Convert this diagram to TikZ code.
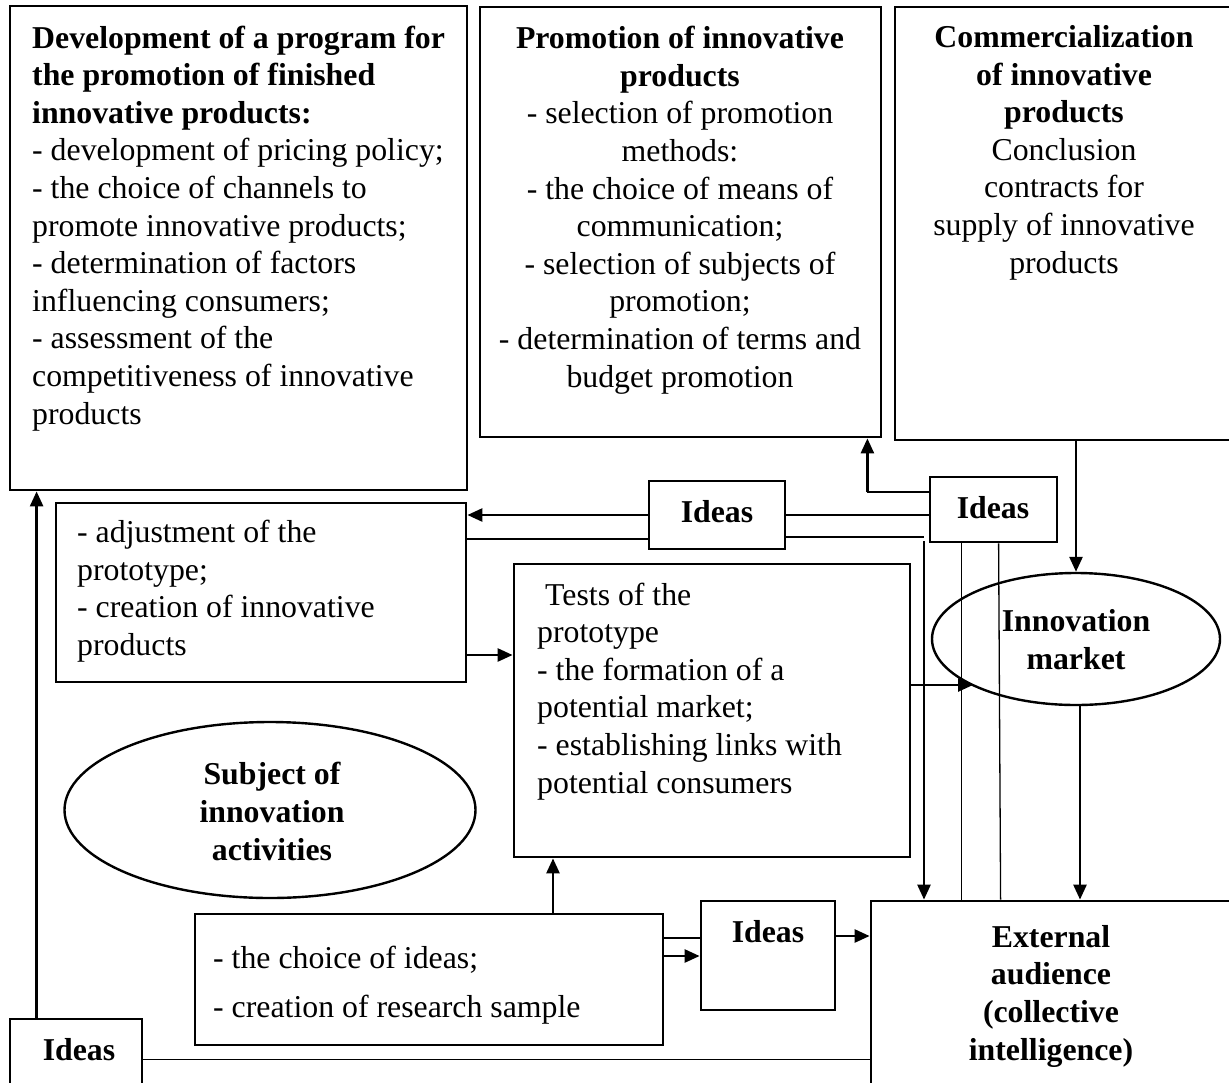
\documentclass[tikz,border=0pt]{standalone}
\usepackage{fontspec}
\setmainfont{Liberation Serif}
\usetikzlibrary{shapes.geometric,arrows.meta,calc}
\begin{document}
\begin{tikzpicture}[x=1pt,y=-1pt,
 box/.style={draw, line width=2.8pt, rectangle, inner sep=0pt},
 oval/.style={draw, line width=2.4pt, ellipse, inner sep=0pt},
 txt/.style={inner sep=0pt, font=\fontsize{31.8pt}{37.6pt}\selectfont},
 btxt/.style={inner sep=0pt, font=\fontsize{31.8pt}{37.6pt}\selectfont\bfseries},
 arr/.style={line width=2.6pt, -{Triangle[length=15pt,width=13pt]}},
 thinl/.style={line width=1.3pt}]
\useasboundingbox (0,0) rectangle (1229,1082);
\clip (0,0) rectangle (1229,1082);
% boxes
\node[box, minimum width=457pt, minimum height=484pt] (dev) at (238.5,248) {};
\node[box, minimum width=401pt, minimum height=430pt] (promo) at (680.5,222) {};
\node[box, minimum width=345pt, minimum height=433pt] (comm) at (1067.5,223.5) {};
\node[box, minimum width=410pt, minimum height=179pt] (adj) at (261,592.5) {};
\node[box, minimum width=136pt, minimum height=68pt] (ideasA) at (717,515) {};
\node[box, minimum width=127pt, minimum height=65pt] (ideasB) at (993.5,509.5) {};
\node[box, minimum width=396pt, minimum height=293pt] (tests) at (712,710.5) {};
\node[oval, minimum width=288pt, minimum height=132pt] (market) at (1076,639) {};
\node[oval, minimum width=411pt, minimum height=176pt] (subject) at (270,810) {};
\node[box, minimum width=468pt, minimum height=131pt] (choice) at (429,979.5) {};
\node[box, minimum width=134pt, minimum height=109pt] (ideasC) at (768,955.5) {};
\node[box, minimum width=132pt, minimum height=81pt] (ideasD) at (76,1059.5) {};
\node[box, minimum width=369pt, minimum height=199pt] (ext) at (1055.5,1000.5) {};
% texts (base anchor = baseline of the last line)
\node[txt, anchor=base west, align=left] (devt) at (32,424) {\textbf{Development of a program for}\\\textbf{the promotion of finished}\\\textbf{innovative products:}\\- development of pricing policy;\\- the choice of channels to\\promote innovative products;\\- determination of factors\\influencing consumers;\\- assessment of the\\competitiveness of innovative\\products};
\node[txt, anchor=base, align=center] (promot) at (680,387) {\textbf{Promotion of innovative}\\\textbf{products}\\- selection of promotion\\methods:\\- the choice of means of\\communication;\\- selection of subjects of\\promotion;\\- determination of terms and\\budget promotion};
\node[txt, anchor=base, align=center] (commt) at (1064,273) {\textbf{Commercialization}\\\textbf{of innovative}\\\textbf{products}\\Conclusion\\contracts for\\supply of innovative\\products};
\node[txt, anchor=base west, align=left] (adjt) at (77,655.5) {- adjustment of the\\prototype;\\- creation of innovative\\products};
\node[txt, anchor=base west, align=left] (testst) at (537,793) {\hspace*{8pt}Tests of the\\prototype\\- the formation of a\\potential market;\\- establishing links with\\potential consumers};
\node[txt, anchor=base west, align=left] (choicet) at (213,1017) {- the choice of ideas;\\[11.4pt]- creation of research sample};
\node[btxt, anchor=base] (ideasAt) at (717,522) {Ideas};
\node[btxt, anchor=base] (ideasBt) at (993,518) {Ideas};
\node[btxt, anchor=base] (ideasCt) at (768,942) {Ideas};
\node[btxt, anchor=base] (ideasDt) at (79,1060) {Ideas};
\node[btxt, anchor=base, align=center] (markett) at (1076,669.5) {Innovation\\market};
\node[btxt, anchor=base, align=center] (subjectt) at (272,860) {Subject of\\innovation\\activities};
\node[btxt, anchor=base, align=center] (extt) at (1051,1060) {External\\audience\\(collective\\intelligence)};
% connectors
\coordinate (pa) at ([xshift=-15pt]promo.south east);
\coordinate (j1) at (924,537);
\coordinate (dA) at ([xshift=28pt]ideasD.north west);
\draw[arr] (dA) -- (dA |- dev.south);
\draw[thinl] (ideasD.east) -- (ideasD.east -| ext.west);
\draw[arr] (ideasA.west) -- (ideasA.west -| adj.east);
\draw[thinl] ([yshift=-24pt]ideasA.west) -- ([yshift=-24pt]ideasA.west -| adj.east);
\draw[thinl] (ideasA.east) -- (ideasA.east -| ideasB.west);
\draw[thinl] ([yshift=-22pt]ideasA.east) -- ([yshift=-22pt]ideasA.east -| j1);
\draw[arr] ([yshift=-4pt]j1) -- (j1 |- ext.north);
\draw[thinl] ([yshift=17.5pt]ideasB.west) -- ([yshift=17.5pt]ideasB.west -| pa);
\draw[arr] ([yshift=17.5pt]ideasB.west -| pa) -- (pa);
\draw[thinl] ([xshift=33pt]ideasB.south west) -- ([xshift=33pt]ideasB.south west |- ext.north);
\draw[thinl] ([xshift=70pt]ideasB.south west) -- ([xshift=72pt]ideasB.south west |- ext.north);
\draw[arr] (market.north |- comm.south) -- (market.north);
\draw[arr] ([xshift=4pt]market.south) -- ([xshift=4pt]market.south |- ext.north);
\draw[arr] ([yshift=25.5pt]tests.east) -- ([xshift=-103pt,yshift=-46pt]market.center);
\draw[arr] ([yshift=-62.5pt]adj.east) -- ([yshift=-62.5pt]adj.east -| tests.west);
\draw[arr] ([xshift=124pt]choice.north) -- ([xshift=124pt]choice.north |- tests.south);
\draw[arr] ([yshift=23.5pt]choice.east) -- ([yshift=23.5pt]choice.east -| ideasC.west);
\draw[thinl] ([yshift=41.5pt]choice.east) -- ([yshift=41.5pt]choice.east -| ideasC.west);
\draw[arr] ([yshift=19.5pt]ideasC.east) -- ([yshift=19.5pt]ideasC.east -| ext.west);
\end{tikzpicture}
\end{document}
